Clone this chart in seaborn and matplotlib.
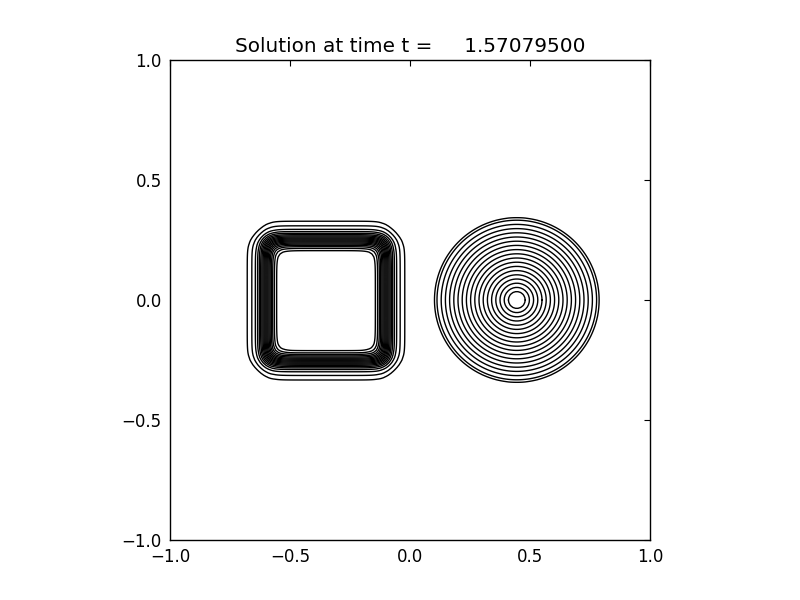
import matplotlib
matplotlib.use("Agg")
import matplotlib.pyplot as plt
import numpy as np
import seaborn as sns

# Domain and grid resolution
X_RANGE = [-1.0, 1.0]
Y_RANGE = [-1.0, 1.0]
N_GRID = 201

# Square body: plateau bounds and edge smoothing width
SQUARE_X = [-0.60, -0.10]
SQUARE_Y = [-0.255, 0.25]
SQUARE_EDGE = 0.04

# Cone body: centre, base radius, peak height
CONE_CENTER = [0.445, 0.0]
CONE_RADIUS = 0.35
CONE_HEIGHT = 1.0
CONE_TOP = 0.92  # peak is clipped by numerical diffusion

LEVELS = [0.02, 0.05, 0.1, 0.15, 0.2, 0.25, 0.3, 0.35, 0.4, 0.45, 0.5,
          0.55, 0.6, 0.65, 0.7, 0.75, 0.8, 0.85, 0.9]
TIME = 1.570795

sns.set_style("white")
plt.rcParams["font.family"] = ["DejaVu Sans"]
plt.rcParams["font.size"] = 12
plt.rcParams["xtick.direction"] = "in"
plt.rcParams["ytick.direction"] = "in"
for key in ["text.color", "axes.labelcolor", "xtick.color", "ytick.color"]:
    plt.rcParams[key] = "black"


def smooth_step(v, lo, hi, w):
    return 0.25 * (1 + np.tanh((v - lo) / w)) * (1 - np.tanh((v - hi) / w))


def build_field():
    x = np.linspace(*X_RANGE, N_GRID)
    y = np.linspace(*Y_RANGE, N_GRID)
    xx, yy = np.meshgrid(x, y)
    square = smooth_step(xx, *SQUARE_X, SQUARE_EDGE) * smooth_step(yy, *SQUARE_Y, SQUARE_EDGE)
    r = np.hypot(xx - CONE_CENTER[0], yy - CONE_CENTER[1])
    cone = np.clip(CONE_HEIGHT * (1 - r / CONE_RADIUS), 0, CONE_TOP)
    return xx, yy, square + cone


def main():
    xx, yy, z = build_field()
    fig = plt.figure(figsize=(8, 6), dpi=100)
    ax = fig.add_axes([0.2125, 0.1, 0.6, 0.8])
    ax.contour(xx, yy, z, levels=LEVELS, colors="k", linewidths=1.0)
    ax.set_xlim(*X_RANGE)
    ax.set_ylim(*Y_RANGE)
    ax.set_aspect("equal")
    ax.set_xticks([-1.0, -0.5, 0.0, 0.5, 1.0])
    ax.set_yticks([-1.0, -0.5, 0.0, 0.5, 1.0])
    ax.tick_params(top=True, right=True, length=4, width=0.8, labelsize=12, pad=6)
    for spine in ax.spines.values():
        spine.set_color("k")
        spine.set_linewidth(1.0)
    ax.set_title(f"Solution at time t = {TIME:14.8f}", fontsize=14.4)
    plt.savefig("out.png", dpi=100)
    plt.close()


if __name__ == "__main__":
    main()
